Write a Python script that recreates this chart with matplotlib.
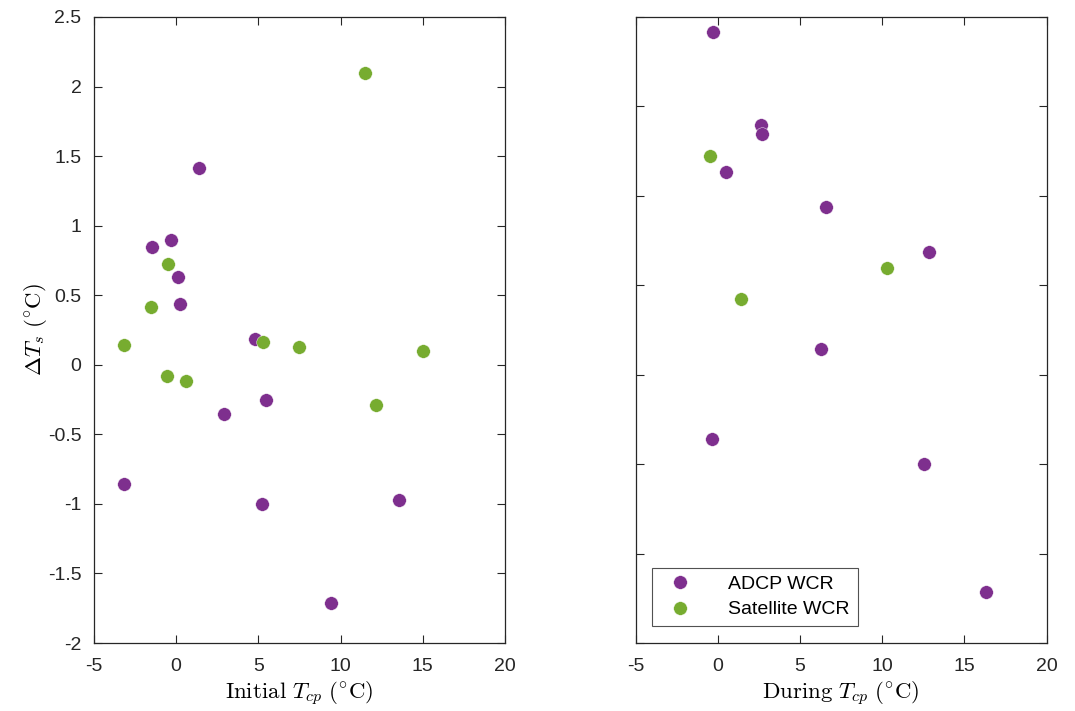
import matplotlib
matplotlib.use("Agg")
import matplotlib.pyplot as plt
from matplotlib.ticker import FuncFormatter, MultipleLocator

plt.rcParams['font.family'] = ['Liberation Sans', 'DejaVu Sans']
plt.rcParams['mathtext.fontset'] = 'cm'
plt.rcParams['axes.unicode_minus'] = False

PURPLE = '#7E2F8E'
GREEN = '#77AC30'

# Left panel: Initial T_cp vs dTs
init_adcp_x = [1.41, -1.47, -0.34, 0.09, 0.25, 4.81, 5.46, 2.89, -3.16, 5.24, 13.57, 9.40]
init_adcp_y = [1.414, 0.847, 0.898, 0.634, 0.435, 0.188, -0.253, -0.354, -0.860, -0.999, -0.970, -1.714]
init_sat_x = [11.5, -0.5, -1.53, -3.19, 5.28, 7.47, 14.99, -0.58, 0.58, 12.13]
init_sat_y = [2.10, 0.723, 0.416, 0.140, 0.167, 0.131, 0.099, -0.078, -0.116, -0.291]

# Right panel: During T_cp vs dTs
dur_adcp_x = [-0.29, 2.65, 2.69, 0.50, 6.55, 12.82, 6.29, -0.38, 12.51, 16.29]
dur_adcp_y = [1.414, 0.898, 0.847, 0.634, 0.435, 0.188, -0.354, -0.860, -0.999, -1.714]
dur_sat_x = [-0.46, 10.27, 1.41]
dur_sat_y = [0.723, 0.099, -0.078]

xticks = [-5, 0, 5, 10, 15, 20]

fig = plt.figure(figsize=(10.75, 7.11), dpi=100)
ax1 = fig.add_axes([0.0874, 0.0956, 0.3823, 0.8805])
ax2 = fig.add_axes([0.5912, 0.0956, 0.3825, 0.8805])

ms = 9.8
for ax in (ax1, ax2):
    ax.set_xlim(-5, 20)
    ax.set_xticks(xticks)
    ax.tick_params(direction='in', length=6, width=0.8, top=True, right=True,
                   labelsize=14, colors='#262626')
    ax.tick_params(axis='x', pad=11)
    ax.tick_params(axis='y', pad=9)
    for s in ax.spines.values():
        s.set_color('#262626')
        s.set_linewidth(0.9)
    ax.yaxis.set_major_locator(MultipleLocator(0.5))

ax1.plot(init_adcp_x, init_adcp_y, 'o', color=PURPLE, ms=ms, mec='white', mew=0.3, label='ADCP WCR')
ax1.plot(init_sat_x, init_sat_y, 'o', color=GREEN, ms=ms, mec='white', mew=0.3, label='Satellite WCR')
ax1.set_ylim(-2, 2.5)
ax1.yaxis.set_major_formatter(FuncFormatter(lambda v, p: f'{v:g}'))
ax1.set_xlabel(r'$\mathrm{Initial}\ T_{cp}\ (^{\circ}\mathrm{C})$', fontsize=16.5, labelpad=3)
ax1.set_ylabel(r'$\Delta T_s\ (^{\circ}\mathrm{C})$', fontsize=16.5, labelpad=-0.5)

ax2.plot(dur_adcp_x, dur_adcp_y, 'o', color=PURPLE, ms=ms, mec='white', mew=0.3, label='ADCP WCR')
ax2.plot(dur_sat_x, dur_sat_y, 'o', color=GREEN, ms=ms, mec='white', mew=0.3, label='Satellite WCR')
ax2.set_ylim(-2, 1.5)
ax2.set_yticklabels([])
ax2.set_xlabel(r'$\mathrm{During}\ T_{cp}\ (^{\circ}\mathrm{C})$', fontsize=16.5, labelpad=3)

leg = ax2.legend(loc='lower left', bbox_to_anchor=(0.041, 0.027), borderaxespad=0,
                 fontsize=14, frameon=True, fancybox=False, edgecolor='#262626',
                 handletextpad=1.5, handlelength=2.0, borderpad=0.4, labelspacing=0.4)
leg.get_frame().set_linewidth(0.8)

fig.savefig('out.png', dpi=100)
